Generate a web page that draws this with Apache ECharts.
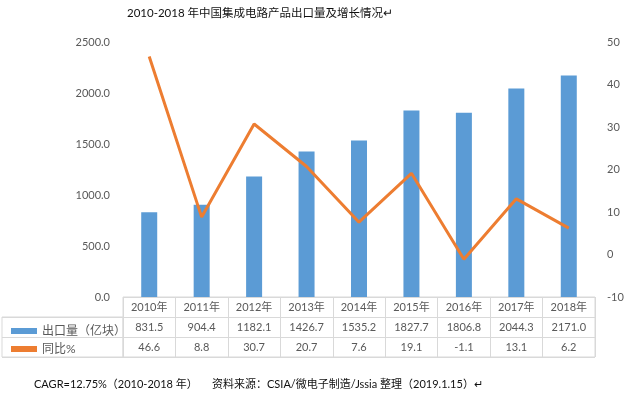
<!DOCTYPE html>
<html><head><meta charset="utf-8">
<script src="https://cdn.jsdelivr.net/npm/echarts@6/dist/echarts.min.js"></script>
<style>html,body{margin:0;padding:0;background:#fff}#c{width:632px;height:393px}</style>
</head><body><div id="c"></div>
<script>
const categories = ['2010年','2011年','2012年','2013年','2014年','2015年','2016年','2017年','2018年'];
const exportVolume = [831.5, 904.4, 1182.1, 1426.7, 1535.2, 1827.7, 1806.8, 2044.3, 2171.0];
const yoyGrowth = [46.6, 8.8, 30.7, 20.7, 7.6, 19.1, -1.1, 13.1, 6.2];
const leftTicks = [0, 2500, 500];
const rightTicks = [-10, 50, 10];
const barName = '出口量（亿块）';
const lineName = '同比%';

const FONT = 'Lato, "Noto Sans CJK SC", sans-serif';
const GRAY = '#595959';
const LINE = '#d9d9d9';
const plotL = 123, plotR = 37, plotT = 42, plotB = 297, rowH = 20;

const chart = echarts.init(document.getElementById('c'));
chart.setOption({
  animation: false,
  textStyle: { fontFamily: FONT },
  title: [
    { text: '2010-2018 年中国集成电路产品出口量及增长情况↵', left: 122, top: 3,
      textStyle: { fontSize: 11.5, fontWeight: 'normal', color: '#111', fontFamily: FONT } },
    { text: 'CAGR=12.75%（2010-2018 年）', left: 29, top: 374,
      textStyle: { fontSize: 11, fontWeight: 'normal', color: '#111', fontFamily: FONT } },
    { text: '资料来源：CSIA/微电子制造/Jssia 整理（2019.1.15）↵', left: 207, top: 374,
      textStyle: { fontSize: 11, fontWeight: 'normal', color: '#111', fontFamily: FONT } }
  ],
  legend: {
    orient: 'vertical', left: 6, top: plotB + rowH + 3, itemGap: 6,
    itemWidth: 26, itemHeight: 6,
    textStyle: { fontSize: 12, color: GRAY, fontFamily: FONT },
    data: [{ name: barName, icon: 'rect' }, { name: lineName, icon: 'rect' }]
  },
  grid: [
    { left: plotL, right: plotR, top: plotT, height: plotB - plotT, containLabel: false },
    { left: plotL, right: plotR, top: plotB, height: rowH * 3, show: true, borderColor: LINE, borderWidth: 1 },
    { left: 2, width: plotL - 2, top: plotB + rowH, height: rowH * 2, show: true, borderColor: LINE, borderWidth: 1 }
  ],
  xAxis: [
    { type: 'category', data: categories, gridIndex: 0,
      axisLine: { show: false }, axisTick: { show: false },
      axisLabel: {
        margin: 0, fontSize: 11, color: GRAY, lineHeight: rowH, verticalAlign: 'top',
        formatter: function (v, i) {
          return v + '\n' + exportVolume[i].toFixed(1) + '\n' + yoyGrowth[i].toFixed(1);
        }
      } },
    { type: 'category', data: categories, gridIndex: 1, boundaryGap: true,
      axisLine: { show: false }, axisTick: { show: false }, axisLabel: { show: false },
      splitLine: { show: true, lineStyle: { color: LINE, width: 1 } } },
    { type: 'category', data: [''], gridIndex: 2, show: false }
  ],
  yAxis: [
    { type: 'value', gridIndex: 0, min: leftTicks[0], max: leftTicks[1], interval: leftTicks[2],
      axisLine: { show: false }, axisTick: { show: false }, splitLine: { show: false },
      axisLabel: { margin: 13, fontSize: 11, color: GRAY, formatter: v => v.toFixed(1) } },
    { type: 'value', gridIndex: 0, position: 'right', min: rightTicks[0], max: rightTicks[1], interval: rightTicks[2],
      axisLine: { show: false }, axisTick: { show: false }, splitLine: { show: false },
      axisLabel: { margin: 12, fontSize: 11, color: GRAY } },
    { type: 'value', gridIndex: 1, min: 0, max: 3, interval: 1,
      axisLine: { show: false }, axisTick: { show: false }, axisLabel: { show: false },
      splitLine: { show: true, lineStyle: { color: LINE, width: 1 } } },
    { type: 'value', gridIndex: 2, min: 0, max: 2, interval: 1,
      axisLine: { show: false }, axisTick: { show: false }, axisLabel: { show: false },
      splitLine: { show: true, lineStyle: { color: LINE, width: 1 } } }
  ],
  series: [
    { name: barName, type: 'bar', data: exportVolume, xAxisIndex: 0, yAxisIndex: 0,
      barWidth: 16, itemStyle: { color: '#5B9BD5' } },
    { name: lineName, type: 'line', data: yoyGrowth, xAxisIndex: 0, yAxisIndex: 1,
      symbol: 'none', itemStyle: { color: '#ED7D31' }, lineStyle: { color: '#ED7D31', width: 3 } }
  ]
});
</script></body></html>
